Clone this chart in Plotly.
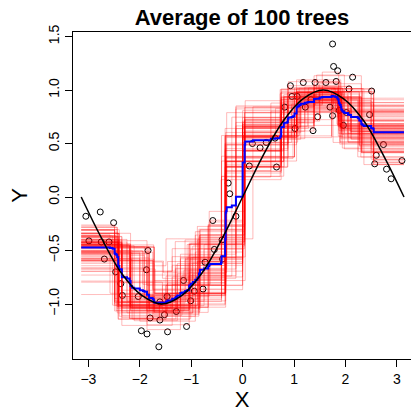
import numpy as np
import plotly.graph_objects as go

# Observed sample (x, y)
points_x = [-3.05, -2.77, -2.51, -2.99, -2.75, -2.60, -2.69, -1.84, -2.47, -1.87,
            -2.37, -2.34, -2.03, -1.15, -1.47, -1.61, -1.01, -1.52, -1.29, -1.80,
            -1.61, -1.97, -1.86, -1.46, -1.09, -1.63, -0.94, -0.77, -0.73, -0.55,
            -0.40, -0.39, -0.58, -0.25, -0.28, -0.13,
            1.75, 1.77, 1.85, 2.14, 2.51, 0.93, 1.18, 1.41, 1.62, 1.82,
            2.07, 0.96, 1.06, 1.33, 0.82, 1.22, 1.70, 1.88, 2.02, 1.75,
            1.46, 2.47, 1.02, 1.96, 1.37, 0.63, 0.46, 0.34, 0.19, 2.74,
            0.13, 0.66, 2.60, 2.57, 2.80, 3.10, 2.89]
points_y = [-0.18, -0.14, -0.24, -0.41, -0.42, -0.42, -0.58, -0.50, -0.70, -0.68,
            -0.81, -0.92, -0.93, -0.78, -0.93, -0.98, -0.97, -1.10, -1.07, -1.13,
            -1.15, -1.25, -1.28, -1.26, -1.21, -1.40, -0.88, -0.86, -0.61, -0.49,
            -0.40, -0.58, -0.22, 0.03, 0.13, -0.18,
            1.43, 1.22, 1.18, 1.12, 0.99, 1.04, 1.07, 1.07, 1.07, 1.08,
            1.01, 0.94, 0.94, 0.91, 0.84, 0.84, 0.84, 0.81, 0.79, 0.76,
            0.75, 0.77, 0.64, 0.67, 0.62, 0.55, 0.51, 0.46, 0.50, 0.49,
            0.29, 0.28, 0.39, 0.31, 0.26, 0.34, 0.17]

# True regression curve
curve_x = [-3.14, -2.75, -2.36, -1.96, -1.57, -1.18, -0.79, -0.39, 0.0,
           0.39, 0.79, 1.18, 1.57, 1.96, 2.36, 2.75, 3.14]
curve_y = [0.0, -0.38, -0.71, -0.92, -1.0, -0.92, -0.71, -0.38, 0.0,
           0.38, 0.71, 0.92, 1.0, 0.92, 0.71, 0.38, 0.0]

n_trees = 100
x_ticks = [-3, -2, -1, 0, 1, 2, 3]
y_ticks = [-1.0, -0.5, 0.0, 0.5, 1.0, 1.5]

X = np.array(points_x)
Y = np.array(points_y)
n = len(X)


def sse(v):
    return float(((v - v.mean()) ** 2).sum()) if len(v) else 0.0


def grow(xs, ys, root_dev, minsize=20, mincut=10, mindev=0.01):
    """Regression tree on one predictor (greedy binary splits)."""
    if len(xs) < minsize or sse(ys) < mindev * root_dev:
        return ("leaf", float(ys.mean()))
    o = np.argsort(xs, kind="mergesort")
    xs, ys = xs[o], ys[o]
    best, best_j = None, None
    for j in range(mincut, len(xs) - mincut + 1):
        if xs[j - 1] == xs[j]:
            continue
        d = sse(ys[:j]) + sse(ys[j:])
        if best is None or d < best:
            best, best_j = d, j
    if best_j is None:
        return ("leaf", float(ys.mean()))
    thr = 0.5 * (xs[best_j - 1] + xs[best_j])
    return ("split", thr,
            grow(xs[:best_j], ys[:best_j], root_dev),
            grow(xs[best_j:], ys[best_j:], root_dev))


def predict(node, x):
    while node[0] == "split":
        node = node[2] if x < node[1] else node[3]
    return node[1]


def resample_counts(k):
    # fixed bootstrap-style case counts for tree k
    idx = np.arange(n)
    h = (idx * 7919 + k * 104729 + idx * k * 31 + (idx * idx) * 13) % 97
    return np.select([h < 35, h < 72, h < 89], [0, 1, 2], default=3)


grid = np.linspace(-3.14, 3.14, 629)
preds = []
for k in range(n_trees):
    c = resample_counts(k)
    xs = np.repeat(X, c)
    ys = np.repeat(Y, c)
    tree = grow(xs, ys, sse(ys))
    preds.append([predict(tree, g) for g in grid])
preds = np.array(preds)
avg = preds.mean(axis=0)

fig = go.Figure()

fig.add_trace(go.Scatter(
    x=points_x, y=points_y, mode="markers",
    marker=dict(symbol="circle-open", size=6, color="black",
                line=dict(width=1, color="black")),
    hoverinfo="skip", showlegend=False))

for p in preds:
    fig.add_trace(go.Scatter(
        x=grid, y=p, mode="lines", line_shape="hv",
        line=dict(color="rgba(255,0,0,0.28)", width=1),
        hoverinfo="skip", showlegend=False))

fig.add_trace(go.Scatter(
    x=grid, y=avg, mode="lines", line_shape="hv",
    line=dict(color="blue", width=2), hoverinfo="skip", showlegend=False))

fig.add_trace(go.Scatter(
    x=curve_x, y=curve_y, mode="lines", line_shape="spline",
    line=dict(color="black", width=1.5), hoverinfo="skip", showlegend=False))

fig.update_layout(
    width=411, height=413,
    margin=dict(l=73, r=0, t=32, b=54),
    paper_bgcolor="white", plot_bgcolor="white",
    font=dict(family="Liberation Sans, Arial, sans-serif", color="black", size=14),
    title=dict(text="<b>Average of 100 trees</b>", x=0.5, xref="paper",
               xanchor="center", y=1 - 17 / 413, yref="container",
               yanchor="middle", font=dict(size=22, color="black")),
    xaxis=dict(range=[-3.30, 3.276], tickvals=x_ticks,
               ticktext=[str(v).replace("-", "\u2212") for v in x_ticks],
               showgrid=False, zeroline=False, showline=True, mirror=True,
               linecolor="black", linewidth=1, ticks="outside", ticklen=7,
               tickcolor="black", tickfont=dict(size=14),
               title=dict(text="X", font=dict(size=22), standoff=4)),
    yaxis=dict(range=[-1.514, 1.542], tickvals=y_ticks,
               ticktext=[f"{v:.1f}".replace("-", "\u2212") for v in y_ticks],
               tickangle=-90,
               showgrid=False, zeroline=False, showline=True, mirror=False,
               linecolor="black", linewidth=1, ticks="outside", ticklen=7,
               tickcolor="black", tickfont=dict(size=14),
               title=dict(text="Y", font=dict(size=22), standoff=12)),
)

fig.write_html("out.html")
